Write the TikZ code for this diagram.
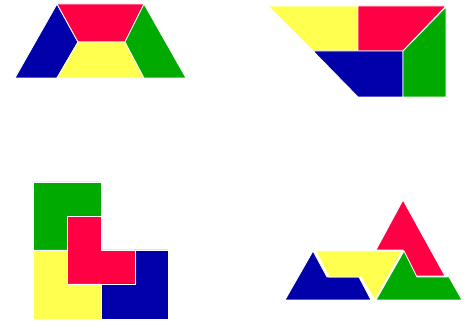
\documentclass[tikz,border=0pt]{standalone}
\definecolor{tred}{RGB}{255,0,68}
\definecolor{tyellow}{RGB}{255,255,80}
\definecolor{tblue}{RGB}{0,0,170}
\definecolor{tgreen}{RGB}{0,170,0}
\begin{document}
\begin{tikzpicture}[x=0.3mm,y=-0.3mm,
  piece/.style={draw=white,line width=0.7pt,line join=round}]
\useasboundingbox (0,0) rectangle (464,322);
% trapezium
\begin{scope}[shift={(15,4)}]
\filldraw[piece,fill=tblue] (42,0) -- (63,38) -- (42,74) -- (0,74) -- cycle;
\filldraw[piece,fill=tred] (42,0) -- (129,0) -- (110,38) -- (63,38) -- cycle;
\filldraw[piece,fill=tyellow] (63,38) -- (110,38) -- (129,74) -- (42,74) -- cycle;
\filldraw[piece,fill=tgreen] (129,0) -- (171,74) -- (129,74) -- (110,38) -- cycle;
\end{scope}
% parallelogram-like
\begin{scope}[shift={(268,6)}]
\filldraw[piece,fill=tyellow] (0,0) -- (90,0) -- (90,45) -- (45,45) -- cycle;
\filldraw[piece,fill=tred] (90,0) -- (178,0) -- (135,45) -- (90,45) -- cycle;
\filldraw[piece,fill=tblue] (45,45) -- (135,45) -- (135,91) -- (90,91) -- cycle;
\filldraw[piece,fill=tgreen] (135,45) -- (178,1) -- (178,91) -- (135,91) -- cycle;
\end{scope}
% L shapes
\begin{scope}[shift={(33,182)}]
\filldraw[piece,fill=tgreen] (0,0) -- (68,0) -- (68,34) -- (34,34) -- (34,68) -- (0,68) -- cycle;
\filldraw[piece,fill=tred] (34,34) -- (68,34) -- (68,68) -- (102,68) -- (102,102) -- (34,102) -- cycle;
\filldraw[piece,fill=tyellow] (0,68) -- (34,68) -- (34,102) -- (68,102) -- (68,137) -- (0,137) -- cycle;
\filldraw[piece,fill=tblue] (102,68) -- (135,68) -- (135,137) -- (68,137) -- (68,102) -- (102,102) -- cycle;
\end{scope}
% triangle pieces
\begin{scope}[shift={(285,200)}]
\filldraw[piece,fill=tred] (118,0) -- (91,50) -- (118,50) -- (131,76) -- (160,76) -- cycle;
\filldraw[piece,fill=tblue] (0,100) -- (28,51) -- (42,77) -- (74,77) -- (86,100) -- cycle;
\filldraw[piece,fill=tyellow] (31,51) -- (117,51) -- (90,100) -- (76,77) -- (44,77) -- cycle;
\filldraw[piece,fill=tgreen] (119,51) -- (91,100) -- (177,100) -- (164,77) -- (132,77) -- cycle;
\end{scope}
\end{tikzpicture}
\end{document}
